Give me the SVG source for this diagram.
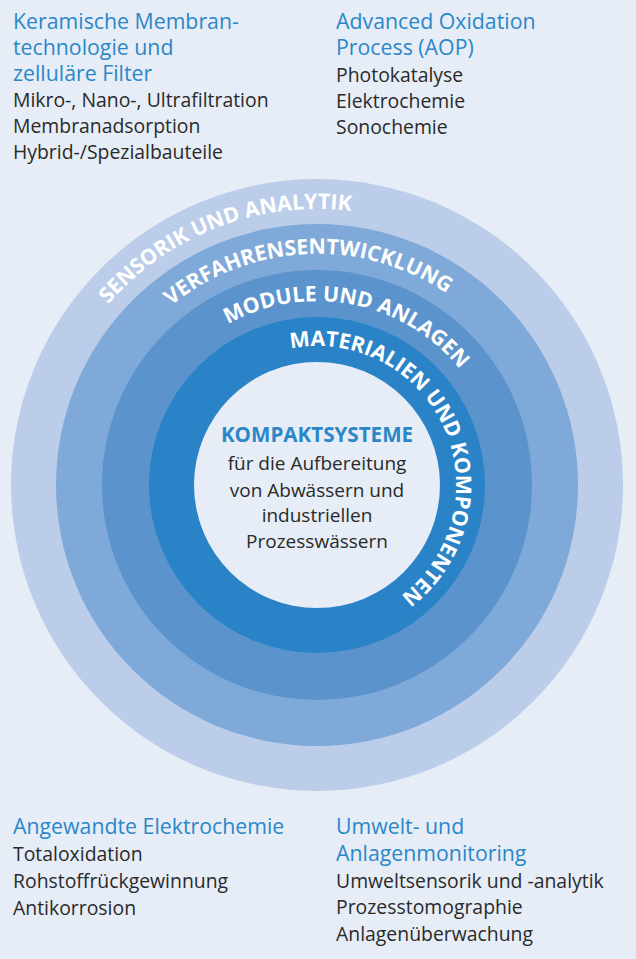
<svg xmlns="http://www.w3.org/2000/svg" width="636" height="959" viewBox="0 0 636 959">
<style>
.h{font-family:"Open Sans","Noto Sans",sans-serif;font-size:21.3px;fill:#2b87c8}
.t{font-family:"Open Sans","Noto Sans",sans-serif;font-size:19.4px;fill:#2a2a2a}
.ct{font-family:"Open Sans","Noto Sans",sans-serif;font-size:19px;fill:#2a2a2a;text-anchor:middle}
.ch{font-family:"Open Sans","Noto Sans",sans-serif;font-size:20.6px;font-weight:bold;fill:#2b87c8;text-anchor:middle}
.ring{font-family:"Open Sans","Noto Sans",sans-serif;font-weight:bold;font-size:21.3px;fill:#ffffff}
</style>
<defs>
<path id="p1" d="M 80.4 627.1 A 276 276 0 1 1 587.9 432.3"/>
<path id="p2" d="M 91.5 535.0 A 231 231 0 1 1 546.0 515.1"/>
<path id="p3" d="M 133.0 481.8 A 184 184 0 1 1 488.8 550.9"/>
<path id="p4" d="M 239.3 369.8 A 139 139 0 1 1 350.6 619.9"/>
</defs>
<rect width="636" height="959" fill="#e6edf7"/>
<g id="rings">
<circle cx="317" cy="485" r="306" fill="#bccde9"/>
<circle cx="317" cy="485" r="261" fill="#7fa9d8"/>
<circle cx="317" cy="485" r="215" fill="#5b93cd"/>
<circle cx="317" cy="485" r="168" fill="#2a83c7"/>
<circle cx="317" cy="485" r="123" fill="#e6edf7"/>
</g>
<g id="ring-labels">
<text class="ring"><textPath href="#p1" startOffset="50%" text-anchor="middle">SENSORIK UND ANALYTIK</textPath></text>
<text class="ring"><textPath href="#p2" startOffset="50%" text-anchor="middle">VERFAHRENSENTWICKLUNG</textPath></text>
<text class="ring"><textPath href="#p3" startOffset="50%" text-anchor="middle">MODULE UND ANLAGEN</textPath></text>
<text class="ring"><textPath href="#p4" startOffset="50%" text-anchor="middle">MATERIALIEN UND KOMPONENTEN</textPath></text>
</g>
<g id="center">
<text class="ch" x="317" y="442">KOMPAKTSYSTEME</text>
<text class="ct" x="317" y="470">für die Aufbereitung</text>
<text class="ct" x="317" y="497">von Abwässern und</text>
<text class="ct" x="317" y="522">industriellen</text>
<text class="ct" x="317" y="548">Prozesswässern</text>
</g>
<g id="top-left">
<text class="h" x="13" y="29">Keramische Membran-</text>
<text class="h" x="13" y="55">technologie und</text>
<text class="h" x="13" y="81">zelluläre Filter</text>
<text class="t" x="13" y="107">Mikro-, Nano-, Ultrafiltration</text>
<text class="t" x="13" y="133">Membranadsorption</text>
<text class="t" x="13" y="159">Hybrid-/Spezialbauteile</text>
</g>
<g id="top-right">
<text class="h" x="336" y="29">Advanced Oxidation</text>
<text class="h" x="336" y="55">Process (AOP)</text>
<text class="t" x="336" y="82">Photokatalyse</text>
<text class="t" x="336" y="108">Elektrochemie</text>
<text class="t" x="336" y="134">Sonochemie</text>
</g>
<g id="bottom-left">
<text class="h" x="13" y="834">Angewandte Elektrochemie</text>
<text class="t" x="13" y="861">Totaloxidation</text>
<text class="t" x="13" y="888">Rohstoffrückgewinnung</text>
<text class="t" x="13" y="915">Antikorrosion</text>
</g>
<g id="bottom-right">
<text class="h" x="336" y="834">Umwelt- und</text>
<text class="h" x="336" y="861">Anlagenmonitoring</text>
<text class="t" x="336" y="888">Umweltsensorik und -analytik</text>
<text class="t" x="336" y="914">Prozesstomographie</text>
<text class="t" x="336" y="941">Anlagenüberwachung</text>
</g>
</svg>
